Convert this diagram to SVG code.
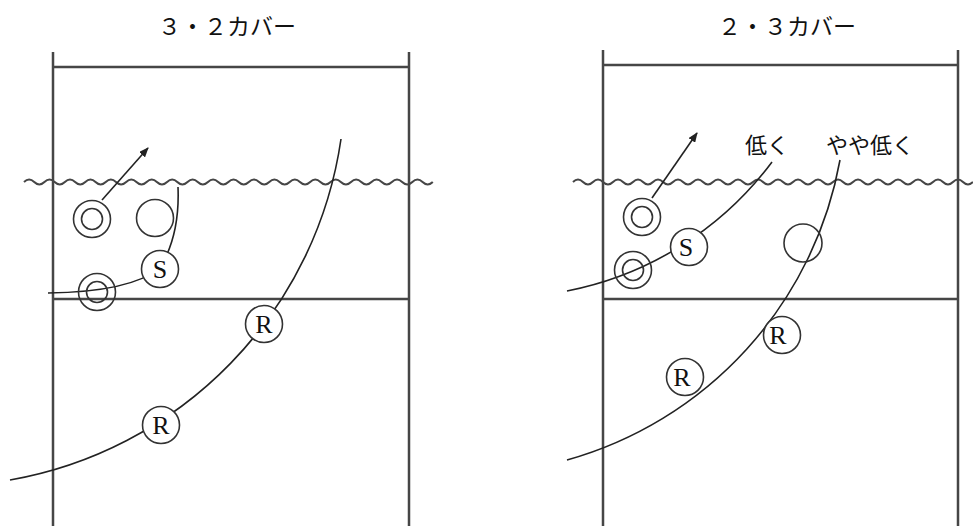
<svg xmlns="http://www.w3.org/2000/svg" width="973" height="526" viewBox="0 0 973 526">
<defs>
<style>
.court{stroke:#464646;stroke-width:2.5;fill:none}
.net{stroke:#464646;stroke-width:2;fill:none}
.path{stroke:#222;stroke-width:1.6;fill:none}
.ring{stroke:#333;stroke-width:1.6;fill:none}
.disc{stroke:#333;stroke-width:1.6;fill:#fff}
.title{font-family:"Noto Sans CJK JP","Noto Sans",sans-serif;font-size:23px;fill:#111}
.label{font-family:"Noto Sans CJK JP","Noto Sans",sans-serif;font-size:22px;fill:#111}
.letter{font-family:"Liberation Serif",serif;font-size:26px;fill:#111;text-anchor:middle}
</style>
<marker id="arrow" markerWidth="10" markerHeight="8" refX="9" refY="4" orient="auto" markerUnits="userSpaceOnUse"><path d="M0,0 L10,4 L0,8 z" fill="#222"/></marker>
</defs>
<rect width="973" height="526" fill="#fff"/>

<g id="court-left">
<path class="court" d="M53,52 V526 M409,52 V526 M53,67 H409 M53,299 H409"/>
<path class="net" d="M24,182 q5.11,-5 10.22,0 t10.22,0 t10.22,0 t10.22,0 t10.22,0 t10.22,0 t10.22,0 t10.22,0 t10.22,0 t10.22,0 t10.22,0 t10.22,0 t10.22,0 t10.22,0 t10.22,0 t10.22,0 t10.22,0 t10.22,0 t10.22,0 t10.22,0 t10.22,0 t10.22,0 t10.22,0 t10.22,0 t10.22,0 t10.22,0 t10.22,0 t10.22,0 t10.22,0 t10.22,0 t10.22,0 t10.22,0 t10.22,0 t10.22,0 t10.22,0 t10.22,0 t10.22,0 t10.22,0 t10.22,0 t10.22,0"/>
<text class="title" x="158" y="35">３・２カバー</text>
</g>

<g id="court-right">
<path class="court" d="M603,50 V526 M958,50 V526 M603,65 H958 M603,299 H958"/>
<path class="net" d="M573,182 q5,-5 10,0 t10,0 t10,0 t10,0 t10,0 t10,0 t10,0 t10,0 t10,0 t10,0 t10,0 t10,0 t10,0 t10,0 t10,0 t10,0 t10,0 t10,0 t10,0 t10,0 t10,0 t10,0 t10,0 t10,0 t10,0 t10,0 t10,0 t10,0 t10,0 t10,0 t10,0 t10,0 t10,0 t10,0 t10,0 t10,0 t10,0 t10,0 t10,0 t10,0"/>
<text class="title" x="718" y="35">２・３カバー</text>
<text class="label" x="745" y="153">低く</text>
<text class="label" x="826" y="153">やや低く</text>
</g>

<g id="connectors">
<path class="path" d="M102,200 L148,148" marker-end="url(#arrow)"/>
<path class="path" d="M178,187 Q180,235 160,268 Q130,292 48,293"/>
<path class="path" d="M341,139 A405,405 0 0,1 10,480"/>
<path class="path" d="M652,198 L697,133" marker-end="url(#arrow)"/>
<path class="path" d="M772,162 A336,336 0 0,1 567,291"/>
<path class="path" d="M840,160 A382,382 0 0,1 567,460"/>
</g>

<g id="L-dbl-top"><circle class="ring" cx="92" cy="219" r="18.5"/><circle class="ring" cx="92" cy="219" r="10.5"/></g>
<g id="L-plain"><circle class="ring" cx="155" cy="218" r="18.5"/></g>
<g id="L-S"><circle class="disc" cx="160" cy="269" r="18.5"/><text class="letter" x="160" y="278">S</text></g>
<g id="L-dbl-bottom"><circle class="ring" cx="97" cy="292" r="18.5"/><circle class="ring" cx="97" cy="292" r="10.5"/></g>
<g id="L-R1"><circle class="disc" cx="264" cy="324" r="18.5"/><text class="letter" x="264" y="333">R</text></g>
<g id="L-R2"><circle class="disc" cx="161" cy="425" r="18.5"/><text class="letter" x="161" y="434">R</text></g>

<g id="R-dbl-top"><circle class="ring" cx="642" cy="217" r="18.5"/><circle class="ring" cx="642" cy="217" r="10.5"/></g>
<g id="R-dbl-bottom"><circle class="ring" cx="633" cy="270" r="18.5"/><circle class="ring" cx="633" cy="270" r="10.5"/></g>
<g id="R-S"><circle class="disc" cx="689" cy="247" r="18.5"/><text class="letter" x="686" y="256">S</text></g>
<g id="R-plain"><circle class="ring" cx="803" cy="243" r="19"/></g>
<g id="R-R1"><circle class="disc" cx="782" cy="335" r="18.5"/><text class="letter" x="778" y="344">R</text></g>
<g id="R-R2"><circle class="disc" cx="685" cy="377" r="18.5"/><text class="letter" x="682" y="386">R</text></g>
</svg>
